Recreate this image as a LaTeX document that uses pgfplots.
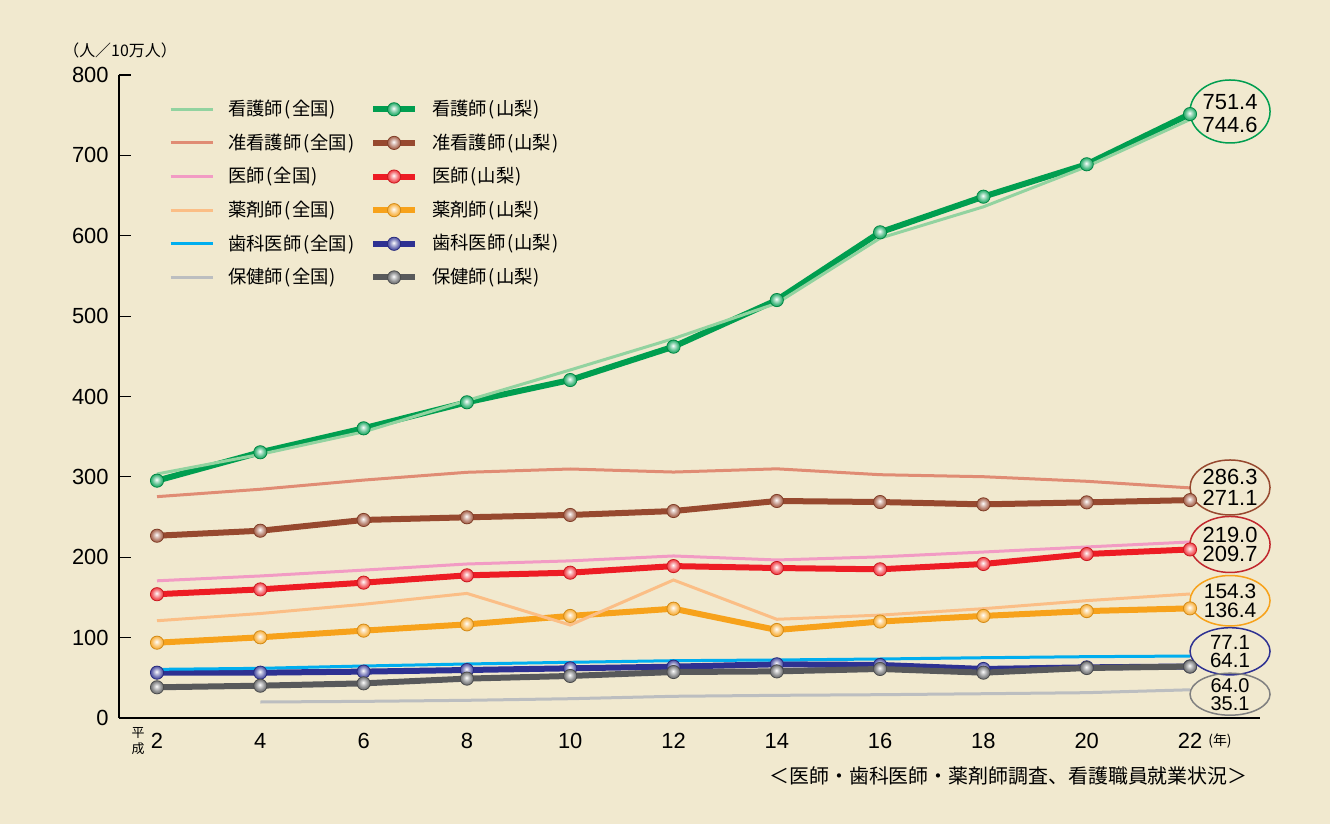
\documentclass[border=0pt]{standalone}
\usepackage{fontspec}
\setmainfont{Liberation Sans}
\newfontfamily\cjk{Noto Sans CJK JP}
\usepackage{pgfplots}
\pgfplotsset{compat=1.18}
\definecolor{bg}{RGB}{241,233,207}
\definecolor{nurseN}{RGB}{146,211,160}
\definecolor{nurseY}{RGB}{0,158,80}
\definecolor{assocN}{RGB}{224,140,116}
\definecolor{assocY}{RGB}{151,73,47}
\definecolor{docN}{RGB}{242,155,196}
\definecolor{docY}{RGB}{237,28,36}
\definecolor{pharmN}{RGB}{251,190,134}
\definecolor{pharmY}{RGB}{247,162,27}
\definecolor{dentN}{RGB}{0,174,239}
\definecolor{dentY}{RGB}{46,49,146}
\definecolor{phnN}{RGB}{188,190,192}
\definecolor{phnY}{RGB}{88,89,91}
\definecolor{ellRed}{RGB}{193,39,45}
\definecolor{ellGray}{RGB}{128,128,128}
\newcommand{\mkball}[1]{%
  \pgfdeclareradialshading{sh#1}{\pgfpoint{-2bp}{4bp}}{%
    color(0bp)=(white); color(6bp)=(#1!25!white); color(20bp)=(#1!75!white);
    color(34bp)=(#1); color(50bp)=(#1!85!black)}%
  \pgfdeclareplotmark{b#1}{%
    \pgfpathcircle{\pgfpointorigin}{\pgfplotmarksize}%
    \pgfshadepath{sh#1}{0}%
    \pgfusepath{discard}%
    \pgfpathcircle{\pgfpointorigin}{\pgfplotmarksize}%
    \pgfusepath{stroke}}%
}
\mkball{nurseY}\mkball{assocY}\mkball{docY}\mkball{pharmY}\mkball{dentY}\mkball{phnY}
\pgfplotsset{
  yam/.style={#1, line width=3bp, mark=b#1,
    mark options={line width=0.4bp, draw=#1!85!black}},
  nat/.style={#1, line width=1.5bp},
}
\newcommand{\lp}{\kern0.8bp(\kern0.6bp}
\newcommand{\rp}{\kern0.6bp)}
\begin{document}
\begin{tikzpicture}
\fill[bg] (-59.5bp,-53bp) rectangle (605.5bp,359bp);
\begin{axis}[
  at={(0,0)}, anchor=south west,
  scale only axis, width=570.5bp, height=321.5bp,
  xmin=1.264, xmax=23.355, ymin=0, ymax=800,
  axis x line*=bottom, axis y line*=left,
  axis line style={-, black, line width=0.7bp},
  every outer x axis line/.append style={-},
  every outer y axis line/.append style={-},
  xtick={2,4,...,22}, ytick={0,100,...,800},
  tick align=inside, major tick length=6bp,
  tick style={black, line width=0.6bp},
  xtick style={draw=none},
  /pgf/number format/assume math mode=true,
  ticklabel style={font=\fontsize{11}{13}\selectfont},
  yticklabel style={inner sep=0pt, xshift=-5bp},
  xticklabel style={inner sep=0pt, yshift=-7.5bp},
  clip=false,
  legend image code/.code={\draw[mark repeat=2,mark phase=2,#1] plot coordinates {(0bp,0bp) (10.5bp,0bp) (21bp,0bp)};},
  legend columns=2,
  legend style={draw=none, fill=none, inner sep=0pt, outer sep=0pt,
    at={(axis description cs:0.0439,0.961)}, anchor=north west,
    column sep=7bp, row sep=7.6bp,
    font=\cjk\fontsize{9.2}{10}\selectfont,
    nodes={inner sep=0pt, anchor=west, text width=64bp, align=left}},
  mark size=3.3bp,
]
% Yamanashi (thick, with balls)
\addplot[forget plot, yam=nurseY] coordinates {(2,295.3)(4,330.6)(6,360.4)(8,392.8)(10,420.5)(12,462)(14,520)(16,604.3)(18,648.6)(20,688.9)(22,751.4)};
\addplot[forget plot, yam=assocY] coordinates {(2,226.8)(4,233)(6,246.4)(8,249.7)(10,252.6)(12,257.5)(14,270)(16,268.7)(18,265.8)(20,268.3)(22,271.1)};
\addplot[forget plot, yam=docY] coordinates {(2,154)(4,160)(6,168.4)(8,177.5)(10,180.8)(12,189)(14,186.6)(16,185)(18,191.6)(20,204)(22,209.7)};
\addplot[forget plot, yam=pharmY] coordinates {(2,93.7)(4,100.4)(6,108.7)(8,116.5)(10,127)(12,136)(14,109.5)(16,120)(18,127)(20,133)(22,136.4)};
\addplot[forget plot, yam=dentY] coordinates {(2,56.4)(4,56.4)(6,57.7)(8,59.7)(10,61.8)(12,63.9)(14,66.8)(16,66)(18,61)(20,63)(22,64.1)};
\addplot[forget plot, yam=phnY] coordinates {(2,38.2)(4,40.2)(6,43.1)(8,49)(10,52.3)(12,57.2)(14,58)(16,61)(18,56.4)(20,62.2)(22,64.0)};
% National (thin)
\addplot[forget plot, nat=nurseN] coordinates {(2,303.6)(4,328)(6,356)(8,395)(10,433)(12,472)(14,516)(16,597)(18,636)(20,686)(22,744.6)};
\addplot[forget plot, nat=assocN] coordinates {(2,275.4)(4,284.6)(6,296)(8,305.7)(10,309.8)(12,306)(14,310)(16,302.7)(18,300.2)(20,294.5)(22,286.3)};
\addplot[forget plot, nat=docN] coordinates {(2,170.7)(4,176.7)(6,184)(8,191.6)(10,195.5)(12,201.6)(14,196.6)(16,200.5)(18,206.5)(20,212.8)(22,219.0)};
\addplot[forget plot, nat=pharmN] coordinates {(2,121)(4,130)(6,141.5)(8,155)(10,115.7)(12,171.7)(14,122.8)(16,128)(18,136)(20,146)(22,154.3)};
\addplot[forget plot, nat=dentN] coordinates {(2,60.5)(4,61.8)(6,64.7)(8,67.2)(10,69.3)(12,71.3)(14,72.2)(16,73.4)(18,75)(20,76.3)(22,77.1)};
\addplot[forget plot, nat=phnN] coordinates {(4,19.9)(6,20.7)(8,22)(10,24)(12,27)(14,28.2)(16,29)(18,30.2)(20,31.5)(22,35.1)};
% legend
\addlegendimage{nat=nurseN}\addlegendentry{看護師\lp 全国\rp}
\addlegendimage{yam=nurseY}\addlegendentry{看護師\lp 山梨\rp}
\addlegendimage{nat=assocN}\addlegendentry{准看護師\lp 全国\rp}
\addlegendimage{yam=assocY}\addlegendentry{准看護師\lp 山梨\rp}
\addlegendimage{nat=docN}\addlegendentry{医師\lp 全国\rp}
\addlegendimage{yam=docY}\addlegendentry{医師\lp 山梨\rp}
\addlegendimage{nat=pharmN}\addlegendentry{薬剤師\lp 全国\rp}
\addlegendimage{yam=pharmY}\addlegendentry{薬剤師\lp 山梨\rp}
\addlegendimage{nat=dentN}\addlegendentry{歯科医師\lp 全国\rp}
\addlegendimage{yam=dentY}\addlegendentry{歯科医師\lp 山梨\rp}
\addlegendimage{nat=phnN}\addlegendentry{保健師\lp 全国\rp}
\addlegendimage{yam=phnY}\addlegendentry{保健師\lp 山梨\rp}
% ellipses with final values
\draw[nurseY, line width=0.75bp] (axis cs:22.775,754.6) ellipse [x radius=20bp, y radius=15.75bp];
\draw[assocY, line width=0.75bp] (axis cs:22.775,286.8) ellipse [x radius=20bp, y radius=13.75bp];
\draw[ellRed, line width=0.75bp] (axis cs:22.775,215.9) ellipse [x radius=20bp, y radius=14bp];
\draw[pharmY, line width=0.75bp] (axis cs:22.775,145.9) ellipse [x radius=20bp, y radius=12.6bp];
\draw[dentY, line width=0.75bp] (axis cs:22.775,83.0) ellipse [x radius=20bp, y radius=11.8bp];
\draw[ellGray, line width=0.75bp] (axis cs:22.775,29.6) ellipse [x radius=20bp, y radius=10.5bp];
\begin{scope}[every node/.style={inner sep=0pt, align=center}]
\node[font=\fontsize{11}{11.7}\selectfont] at (axis cs:22.775,752.2) {751.4\\744.6};
\node[font=\fontsize{11}{10.5}\selectfont] at (axis cs:22.775,287.2) {286.3\\271.1};
\node[font=\fontsize{11}{9.8}\selectfont] at (axis cs:22.775,215.9) {219.0\\209.7};
\node[font=\fontsize{10.5}{9.5}\selectfont] at (axis cs:22.775,145.8) {154.3\\136.4};
\node[font=\fontsize{10.3}{9.3}\selectfont] at (axis cs:22.775,82.4) {77.1\\64.1};
\node[font=\fontsize{10}{9}\selectfont] at (axis cs:22.775,29.0) {64.0\\35.1};
\end{scope}
% other texts
\node[inner sep=0pt, font=\cjk\fontsize{8}{9}\selectfont] at (axis cs:1.284,831.1) {（人／10万人）};
\node[inner sep=0pt, font=\cjk\fontsize{6.5}{7}\selectfont] at (axis cs:1.632,-18.7) {平};
\node[inner sep=0pt, font=\cjk\fontsize{6.5}{7}\selectfont] at (axis cs:1.632,-38.6) {成};
\node[inner sep=0pt, font=\cjk\fontsize{7}{8}\selectfont] at (axis cs:22.58,-28.6) {(年)};
\node[inner sep=0pt, font=\cjk\fontsize{10}{11}\selectfont] at (axis cs:18.486,-72.2) {＜医師・歯科医師・薬剤師調査、看護職員就業状況＞};
\end{axis}
\pgfresetboundingbox
\useasboundingbox (-59.5bp,-53bp) rectangle (605.5bp,359bp);
\end{tikzpicture}
\end{document}
